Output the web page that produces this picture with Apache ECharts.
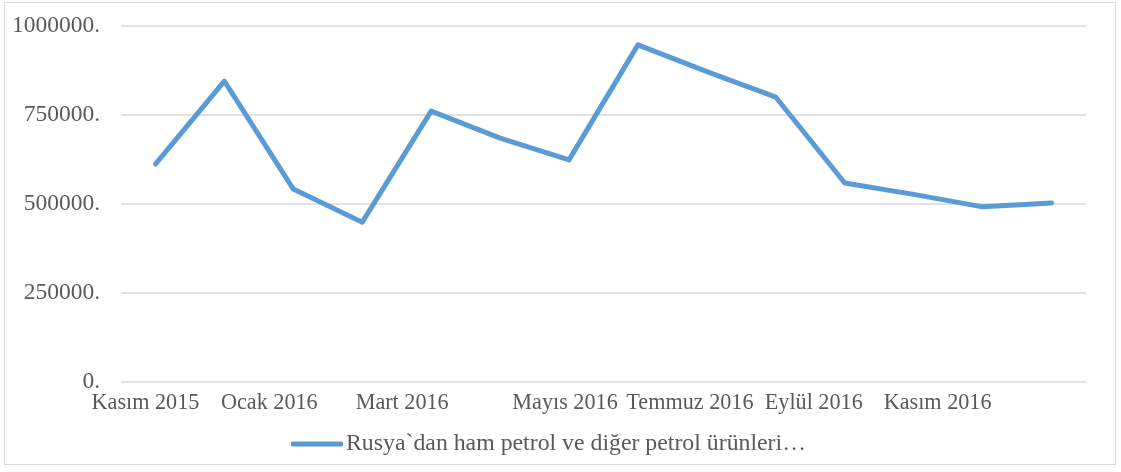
<!DOCTYPE html>
<html>
<head>
<meta charset="utf-8">
<script src="https://cdn.jsdelivr.net/npm/echarts@6/dist/echarts.min.js"></script>
<style>
  html, body { margin: 0; padding: 0; background: #ffffff; }
  #frame { position: absolute; left: 4px; top: 2px; width: 1112px; height: 463px; border: 1.5px solid #d9d9d9; box-sizing: border-box; }
  #chart { position: absolute; left: 0; top: 0; width: 1121px; height: 472px; }
</style>
</head>
<body>
<div id="frame"></div>
<div id="chart"></div>
<script>
// Monthly imports, November 2015 – December 2016
const months = [
  'Kasım 2015', 'Aralık 2015', 'Ocak 2016', 'Şubat 2016', 'Mart 2016', 'Nisan 2016',
  'Mayıs 2016', 'Haziran 2016', 'Temmuz 2016', 'Ağustos 2016', 'Eylül 2016',
  'Ekim 2016', 'Kasım 2016', 'Aralık 2016'
];
const importValues = [
  612000, 845000, 542000, 449000, 761000, 685000, 624000,
  947000, 872000, 800000, 559000, 527000, 492000, 503000
];
const seriesName = 'Rusya`dan ham petrol ve diğer petrol ürünleri…';
const yTicks = [0, 250000, 500000, 750000, 1000000];

// horizontal nudges for the shown month labels (px, negative = left)
const labelShift = { 0: -10, 2: -24, 4: -29, 6: -4, 8: -17, 10: -31, 12: -45 };
const xFont = 22.2;

const rich = {};
Object.keys(labelShift).forEach(function (k) {
  const d = Math.abs(labelShift[k]);
  rich['s' + k] = { fontFamily: 'Liberation Serif', fontSize: xFont, color: '#595959', padding: [0, 2 * d, 0, 0] };
});

const chart = echarts.init(document.getElementById('chart'), null, { renderer: 'canvas' });
chart.setOption({
  animation: false,
  backgroundColor: 'transparent',
  textStyle: { fontFamily: 'Liberation Serif' },
  grid: { left: 121, right: 35, top: 26, bottom: 90, containLabel: false },
  legend: {
    data: [seriesName],
    bottom: 11,
    left: 286,
    itemWidth: 52,
    itemHeight: 5,
    itemGap: 4,
    icon: 'roundRect',
    textStyle: { fontFamily: 'Liberation Serif', fontSize: 23.8, color: '#595959', padding: [0, 0, 0, -2] }
  },
  xAxis: {
    type: 'category',
    data: months,
    boundaryGap: true,
    axisLine: { show: false },
    axisTick: { show: false },
    axisLabel: {
      interval: 1,
      margin: 10,
      fontFamily: 'Liberation Serif',
      fontSize: xFont,
      color: '#595959',
      formatter: function (value, index) {
        return labelShift[index] !== undefined ? '{s' + index + '|' + value + '}' : value;
      },
      rich: rich
    }
  },
  yAxis: {
    type: 'value',
    min: yTicks[0],
    max: yTicks[yTicks.length - 1],
    interval: yTicks[1] - yTicks[0],
    axisLine: { show: false },
    axisTick: { show: false },
    splitLine: { lineStyle: { color: '#d9d9d9', width: 1.5 } },
    axisLabel: {
      margin: 21,
      fontFamily: 'Liberation Serif',
      fontSize: 23.5,
      color: '#595959',
      formatter: function (v) { return v + '.'; }
    }
  },
  series: [{
    name: seriesName,
    type: 'line',
    data: importValues,
    symbol: 'none',
    lineStyle: { color: '#5b9bd5', width: 5, cap: 'round', join: 'round' },
    itemStyle: { color: '#5b9bd5' }
  }]
});
</script>
</body>
</html>
